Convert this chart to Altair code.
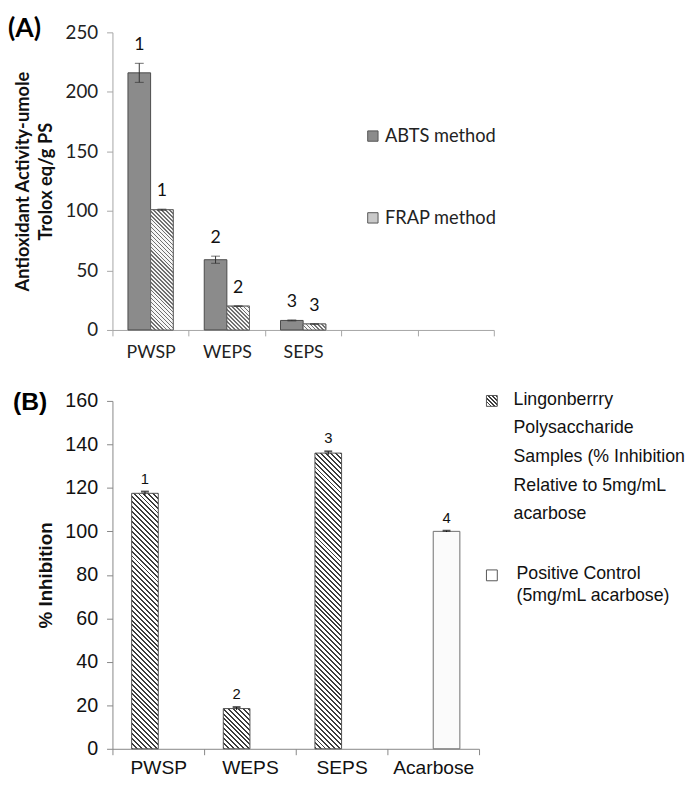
import altair as alt
import pandas as pd

# ---------------- Panel A data ----------------
a_samples = ["PWSP", "WEPS", "SEPS"]
a_slots = ["PWSP", "WEPS", "SEPS", "slot4", "slot5"]
a_methods = ["ABTS method", "FRAP method"]
abts_mean = [216, 59, 8]
abts_err = [8, 3, 0.4]
frap_mean = [101, 20, 5]
frap_err = [0.5, 0.3, 0.2]
abts_letters = ["1", "2", "3"]
frap_letters = ["1", "2", "3"]
a_ticks = [0, 50, 100, 150, 200, 250]

# ---------------- Panel B data ----------------
b_samples = ["PWSP", "WEPS", "SEPS", "Acarbose"]
b_groups = ["Lingonberrry Polysaccharide Samples", "Positive Control"]
b_group_index = [0, 0, 0, 1]
b_mean = [117.5, 18.5, 136, 100]
b_err = [0.8, 0.7, 0.8, 0.3]
b_letters = ["1", "2", "3", "4"]
b_ticks = [0, 20, 40, 60, 80, 100, 120, 140, 160]
b_legend_lines_1 = ["Lingonberrry", "Polysaccharide", "Samples (% Inhibition",
                    "Relative to 5mg/mL", "acarbose"]
b_legend_lines_2 = ["Positive Control", "(5mg/mL acarbose)"]

panel_labels = ["(A)", "(B)"]

FA = "Lato"
FB = "Liberation Sans"

WA, HA, YMAXA = 387, 302, 250
WB, HB, YMAXB = 372, 353, 160
PO_A, PO_B = 0.685, 0.72


def hatch(w, h, hperiod, dark, c1, c2):
    """Diagonal (top-left to bottom-right) stripes as a linear gradient in the
    mark's bounding box; hperiod is the horizontal stripe period in pixels."""
    w = max(w, 1.0)
    h = max(h, 1.0)
    span = w + h
    x2 = span * w / (w * w + h * h)
    y2 = 1 - span * h / (w * w + h * h)
    stops = []
    k = 0
    while k * hperiod / span < 1:
        a = k * hperiod / span
        b = min((k + dark) * hperiod / span, 1)
        c = min((k + 1) * hperiod / span, 1)
        stops += [{"offset": a, "color": c1}, {"offset": b, "color": c1},
                  {"offset": b, "color": c2}, {"offset": c, "color": c2}]
        k += 1
    return {"gradient": "linear", "x1": 0, "y1": 1, "x2": x2, "y2": y2, "stops": stops}


# ---------------- Panel A ----------------
rows = []
for i, s in enumerate(a_samples):
    rows.append(dict(sample=s, method=a_methods[0], mean=abts_mean[i], err=abts_err[i],
                     letter=abts_letters[i]))
    rows.append(dict(sample=s, method=a_methods[1], mean=frap_mean[i], err=frap_err[i],
                     letter=frap_letters[i]))
dfA = pd.DataFrame(rows)
dfA["lo"] = dfA["mean"] - dfA["err"]
dfA["hi"] = dfA["mean"] + dfA["err"]

xA = alt.X("sample:N",
           scale=alt.Scale(domain=a_slots, paddingInner=0, paddingOuter=0),
           axis=alt.Axis(title=None, tickBand="extent", labelAngle=0,
                         labelExpr="indexof(['slot4','slot5'], datum.value) >= 0 ? '' : datum.value",
                         labelFont=FA, labelFontSize=18, labelColor="#222",
                         labelPadding=8, tickSize=6, domainColor="#a6a6a6",
                         tickColor="#a6a6a6"))
xoA = alt.XOffset("method:N",
                  scale=alt.Scale(domain=a_methods, paddingOuter=PO_A, paddingInner=0))
yscaleA = alt.Scale(domain=[0, YMAXA], nice=False)
yA = alt.Y("mean:Q", scale=yscaleA,
           axis=alt.Axis(values=a_ticks, grid=False,
                         title=["Antioxidant Activity-umole", "Trolox eq/g PS"],
                         titleFont=FA, titleFontSize=18.5, titleFontWeight="bold",
                         titleColor="#111", titleLineHeight=23, titlePadding=10,
                         labelFont=FA, labelFontSize=19, labelColor="#222",
                         labelPadding=9, tickSize=6, domainColor="#a6a6a6",
                         tickColor="#a6a6a6"))

baseA = alt.Chart(dfA)

barsA = baseA.mark_bar(stroke="#4a4a4a", strokeWidth=1).encode(
    x=xA, xOffset=xoA, y=yA,
    fill=alt.Fill("method:N",
                  scale=alt.Scale(domain=a_methods, range=["#8b8b8b", "#c9c9c9"]),
                  legend=alt.Legend(title=None, orient="none", legendX=255, legendY=96,
                                    direction="vertical", symbolType="square",
                                    symbolSize=110, symbolStrokeColor="#555",
                                    symbolStrokeWidth=1, labelFont=FA,
                                    labelFontSize=18.5, labelColor="#222",
                                    rowPadding=64, labelOffset=3)),
)

stepA = (WA / len(a_slots)) / (len(a_methods) + 2 * PO_A)
frap_layers = []
for i, s in enumerate(a_samples):
    hpx = frap_mean[i] / YMAXA * HA
    frap_layers.append(
        alt.Chart(dfA[(dfA["sample"] == s) & (dfA["method"] == a_methods[1])])
        .mark_bar(fill=hatch(stepA, hpx, 4, 0.4, "#707070", "#f6f6f6"),
                  stroke="#6a6a6a", strokeWidth=1)
        .encode(x=xA, xOffset=xoA, y=yA))

errA = baseA.mark_rule(color="#333", strokeWidth=1).encode(
    x=xA, xOffset=xoA, y=alt.Y("lo:Q", scale=yscaleA), y2="hi:Q")
capTopA = baseA.mark_tick(color="#333", size=9, thickness=1).encode(
    x=xA, xOffset=xoA, y=alt.Y("hi:Q", scale=yscaleA))
capBotA = baseA.mark_tick(color="#333", size=9, thickness=1).encode(
    x=xA, xOffset=xoA, y=alt.Y("lo:Q", scale=yscaleA))
textA = baseA.mark_text(font=FA, fontSize=18, color="#111", dy=-18).encode(
    x=xA, xOffset=xoA, y=alt.Y("hi:Q", scale=yscaleA), text="letter:N")

tagA = alt.Chart(pd.DataFrame({"t": [panel_labels[0]]})).mark_text(
    font=FA, fontSize=27, fontWeight="bold", align="left", baseline="middle",
    color="#000").encode(x=alt.value(-106), y=alt.value(-3), text="t:N")

chartA = alt.layer(barsA, *frap_layers, errA, capTopA, capBotA, textA, tagA).properties(
    width=WA, height=HA)

# ---------------- Panel B ----------------
dfB = pd.DataFrame({
    "sample": b_samples,
    "group": [b_groups[g] for g in b_group_index],
    "mean": b_mean,
    "err": b_err,
    "letter": b_letters,
})
dfB["lo"] = dfB["mean"] - dfB["err"]
dfB["hi"] = dfB["mean"] + dfB["err"]

xB = alt.X("sample:N",
           scale=alt.Scale(domain=b_samples, paddingInner=0, paddingOuter=0),
           axis=alt.Axis(title=None, tickBand="extent", labelAngle=0,
                         labelFont=FB, labelFontSize=19.5, labelColor="#111",
                         labelPadding=4, tickSize=6, domainColor="#868686",
                         tickColor="#868686"))
xoB = alt.XOffset("group:N",
                  scale=alt.Scale(domain=b_groups, paddingOuter=PO_B, paddingInner=0))
yscaleB = alt.Scale(domain=[0, YMAXB], nice=False)
yB = alt.Y("mean:Q", scale=yscaleB,
           axis=alt.Axis(values=b_ticks, grid=False, title="% Inhibition",
                         titleFont=FB, titleFontSize=19, titleFontWeight="bold",
                         titleColor="#111", titlePadding=9,
                         labelFont=FB, labelFontSize=20, labelColor="#111",
                         labelPadding=9, tickSize=6, domainColor="#868686",
                         tickColor="#868686"))

stepB = (WB / len(b_samples)) / (len(b_groups) + 2 * PO_B)
bar_layers_B = []
for i, s in enumerate(b_samples):
    sub = dfB[dfB["sample"] == s]
    if b_group_index[i] == 0:
        hpx = b_mean[i] / YMAXB * HB
        fill = hatch(stepB, hpx, 5, 0.4, "#3c3c3c", "#ffffff")
        stroke = "#505050"
    else:
        fill = "#fbfbfb"
        stroke = "#6e6e6e"
    bar_layers_B.append(
        alt.Chart(sub).mark_bar(fill=fill, stroke=stroke, strokeWidth=1)
        .encode(x=xB, xOffset=xoB, y=yB))

baseB = alt.Chart(dfB)
errB = baseB.mark_rule(color="#111", strokeWidth=1).encode(
    x=xB, xOffset=xoB, y=alt.Y("lo:Q", scale=yscaleB), y2="hi:Q")
capB = baseB.mark_tick(color="#111", size=8, thickness=2).encode(
    x=xB, xOffset=xoB, y=alt.Y("hi:Q", scale=yscaleB))
textB = baseB.mark_text(font=FB, fontSize=15, color="#111", dy=-13).encode(
    x=xB, xOffset=xoB, y=alt.Y("hi:Q", scale=yscaleB), text="letter:N")
tagB = alt.Chart(pd.DataFrame({"t": [panel_labels[1]]})).mark_text(
    font=FB, fontSize=25, fontWeight="bold", align="left", baseline="middle",
    color="#000").encode(x=alt.value(-101), y=alt.value(1), text="t:N")

chartB = alt.layer(*bar_layers_B, errB, capB, textB, tagB).properties(width=WB, height=HB)

# ---------------- Panel B legend ----------------
dfL = pd.DataFrame({
    "group": b_groups,
    "lines": [b_legend_lines_1, b_legend_lines_2],
})
yL = alt.Y("group:N", scale=alt.Scale(domain=b_groups, type="point", padding=0),
           axis=None)
sw1 = alt.Chart(dfL[dfL["group"] == b_groups[0]]).mark_square(
    size=121, fill=hatch(11, 11, 4, 0.4, "#3c3c3c", "#ffffff"),
    stroke="#555", strokeWidth=1, opacity=1).encode(x=alt.value(6), y=yL)
sw2 = alt.Chart(dfL[dfL["group"] == b_groups[1]]).mark_square(
    size=121, fill="#ffffff", stroke="#555", strokeWidth=1, opacity=1).encode(
    x=alt.value(6), y=yL)
leg1 = alt.Chart(dfL[dfL["group"] == b_groups[0]]).mark_text(
    font=FB, fontSize=18, color="#111", align="left", baseline="top",
    lineHeight=29, dy=-10).encode(x=alt.value(28), y=yL, text="lines:N")
leg2 = alt.Chart(dfL[dfL["group"] == b_groups[1]]).mark_text(
    font=FB, fontSize=18, color="#111", align="left", baseline="top",
    lineHeight=22, dy=-10).encode(x=alt.value(31), y=yL, text="lines:N")
legendB = alt.layer(sw1, sw2, leg1, leg2).properties(width=190, height=177)

rowB = alt.hconcat(chartB, legendB, spacing=4)

chart = alt.vconcat(chartA, rowB, spacing=29).properties(
    padding={"left": 0, "top": 2, "right": 0, "bottom": 0}
).resolve_scale(
    xOffset="independent", fill="independent", x="independent", y="independent"
).resolve_legend(fill="independent").configure_view(stroke=None).configure_axis(
    domainWidth=1, tickWidth=1)

chart.save("out.html", embed_options={"renderer": "svg", "actions": False})
